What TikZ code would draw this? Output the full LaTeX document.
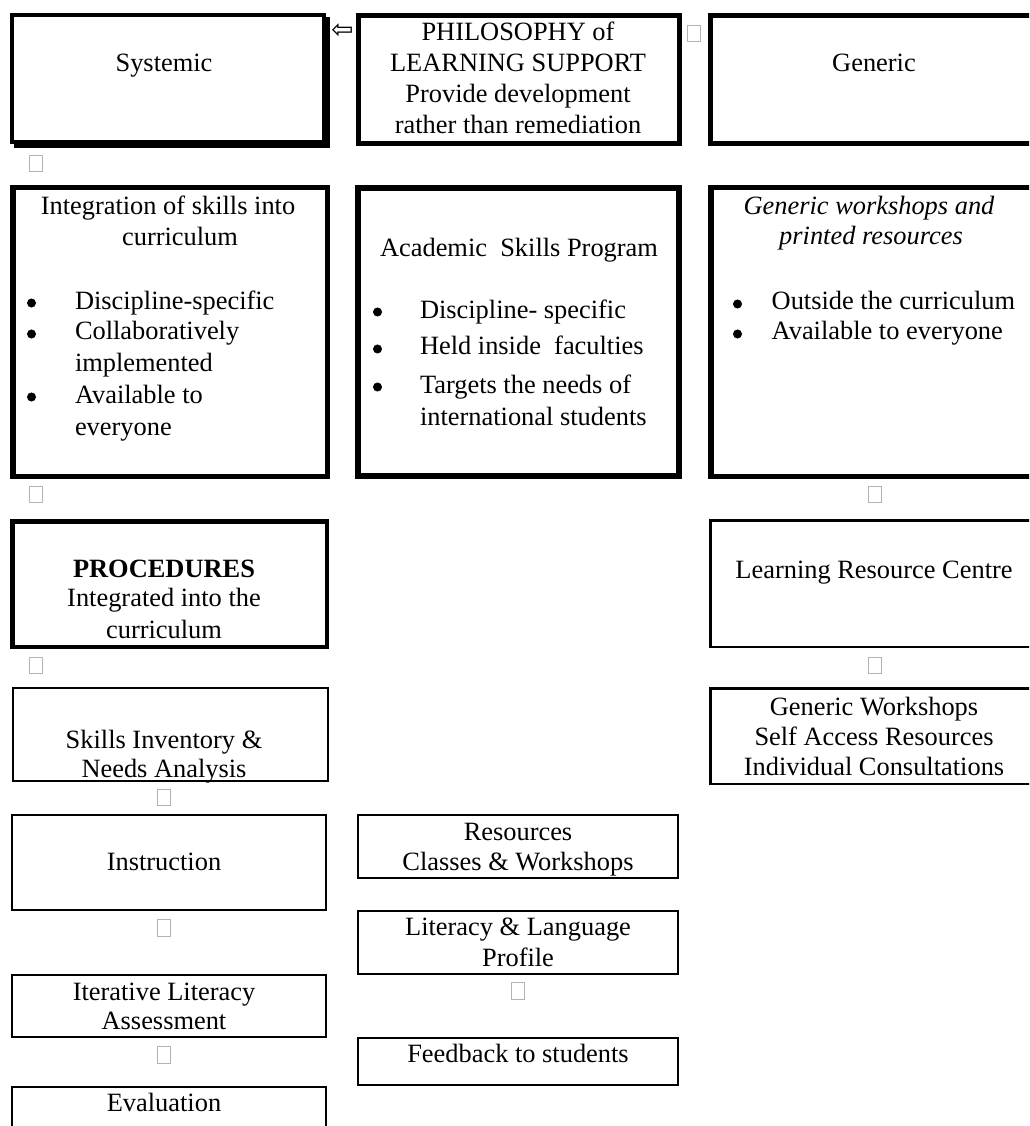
\documentclass[tikz,border=0pt]{standalone}
\usepackage{fontspec}
\setmainfont{Liberation Serif}
\newfontfamily\djv{DejaVu Sans}
% box from outer corners (x1,y1)-(x2,y2) in px, border width #7 px
\newcommand\bxn[7][]{\node[draw, #1, line width=#7*0.4545pt,
  minimum width={(#5-#3-#7)*0.4545pt}, minimum height={(#6-#4-#7)*0.4545pt}]
  (#2) at ({(#3+#5)/2},{(#4+#6)/2}) {};}
\begin{document}
\begin{tikzpicture}[x=0.4545pt, y=-0.4545pt,
  every node/.style={font=\fontsize{12}{14.1}\selectfont, inner sep=0pt, outer sep=0pt},
  lbl/.style={anchor=base},
  lft/.style={anchor=base west},
  bul/.style={circle, fill=black, minimum size=4.1pt},
  tofu/.style={draw=black!30, line width=0.5pt, minimum width=6pt, minimum height=7.6pt}]
\clip (0,0) rectangle (1029,1126);
\fill[white] (0,0) rectangle (1029,1126);

% ---------- row 1 ----------
\fill (14,17) rectangle (330,148);
\bxn[fill=white]{sys}{10}{13}{326}{144}{4}
\bxn{phil}{356}{13}{682}{146}{5}
\bxn{gen}{708}{13}{1045}{146}{5}

\node[lbl] (tsys) at (164,72) {Systemic};
\node[lbl] (tph1) at (518,40.7) {PHILOSOPHY of};
\node[lbl] (tph2) at (518,71.7) {LEARNING SUPPORT};
\node[lbl] (tph3) at (518,102.5) {Provide development};
\node[lbl] (tph4) at (518,133.5) {rather than remediation};
\node[lbl] (tgen) at (874,71.7) {Generic};

% ---------- row 2 ----------
\bxn{integ}{10}{185}{330}{479}{5.5}
\bxn{acad}{355}{185}{682}{479}{6}
\bxn{genw}{708}{185}{1045}{479}{5.5}

\node[lbl] (ti1) at (168,215) {Integration of skills into};
\node[lbl] (ti2) at (180,246) {curriculum};
\node[bul] (bi1) at (31.5,303) {};
\node[bul] (bi2) at (31.5,334) {};
\node[bul] (bi3) at (31.5,397) {};
\node[lft] (li1) at (75,309.3) {Discipline-specific};
\node[lft] (li2) at (75,340) {Collaboratively};
\node[lft] (li3) at (75,371.7) {implemented};
\node[lft] (li4) at (75,403.3) {Available to};
\node[lft] (li5) at (75,435) {everyone};

\node[lbl] (ta1) at (519,256.7) {Academic\enspace Skills Program};
\node[bul] (ba1) at (377.5,312) {};
\node[bul] (ba2) at (377.5,349) {};
\node[bul] (ba3) at (377.5,387) {};
\node[lft] (la1) at (420,318.3) {Discipline- specific};
\node[lft] (la2) at (420,355) {Held inside\enspace faculties};
\node[lft] (la3) at (420,393.3) {Targets the needs of};
\node[lft] (la4) at (420,425) {international students};

\node[lbl] (tg1) at (869,215) {\itshape Generic workshops and};
\node[lbl] (tg2) at (871,245) {\itshape printed resources};
\node[bul] (bg1) at (737.5,304) {};
\node[bul] (bg2) at (737.5,334) {};
\node[lft] (lg1) at (771.7,310) {Outside the curriculum};
\node[lft] (lg2) at (771.7,340) {Available to everyone};

% ---------- row 3 ----------
\bxn{proc}{10}{519}{329}{649}{4.5}
\bxn{lrc}{709}{519}{1045}{648}{2.5}
\node[lbl] (tp1) at (164,577.3) {\bfseries PROCEDURES};
\node[lbl] (tp2) at (164,606.7) {Integrated into the};
\node[lbl] (tp3) at (164,638.3) {curriculum};
\node[lbl] (tlrc) at (874,578.5) {Learning Resource Centre};

% ---------- row 4 ----------
\bxn{skill}{11.5}{687}{328.5}{782}{2}
\bxn{gws}{709}{687}{1045}{785}{2.5}
\node[lbl] (ts1) at (164,748) {Skills Inventory \&};
\node[lbl] (ts2) at (164,777) {Needs Analysis};
\node[lbl] (tw1) at (874,715) {Generic Workshops};
\node[lbl] (tw2) at (874,745) {Self Access Resources};
\node[lbl] (tw3) at (874,775) {Individual Consultations};

% ---------- lower rows ----------
\bxn{instr}{11}{814}{327}{911}{2}
\bxn{res}{357}{814}{679}{879}{2}
\bxn{lit}{357}{910}{679}{975}{2}
\bxn{iter}{11}{974}{327}{1038}{2}
\bxn{feed}{357}{1037}{679}{1086}{2}
\bxn{eval}{11}{1086}{327}{1140}{2}

\node[lbl] (tin) at (164,870.7) {Instruction};
\node[lbl] (tr1) at (518,840) {Resources};
\node[lbl] (tr2) at (518,870.7) {Classes \& Workshops};
\node[lbl] (tl1) at (518,935) {Literacy \& Language};
\node[lbl] (tl2) at (518,966) {Profile};
\node[lbl] (tt1) at (164,1000) {Iterative Literacy};
\node[lbl] (tt2) at (164,1029.3) {Assessment};
\node[lbl] (tf) at (518,1062.7) {Feedback to students};
\node[lbl] (te) at (164,1111) {Evaluation};

% ---------- glyph marks between boxes ----------
\node[font=\djv\fontsize{12}{12}\selectfont] (arr) at (342.5,31) {⇦};
\node[tofu] (g1) at (694,33.5) {};
\node[tofu] (g2) at (36,163.5) {};
\node[tofu] (g3) at (36,494.5) {};
\node[tofu] (g4) at (36,665.5) {};
\node[tofu] (g5) at (875,494.5) {};
\node[tofu] (g6) at (875,665.5) {};
\node[tofu] (g7) at (164,797.5) {};
\node[tofu] (g8) at (164,928) {};
\node[tofu] (g9) at (164,1055) {};
\node[tofu] (g10) at (518,991) {};
\end{tikzpicture}
\end{document}
